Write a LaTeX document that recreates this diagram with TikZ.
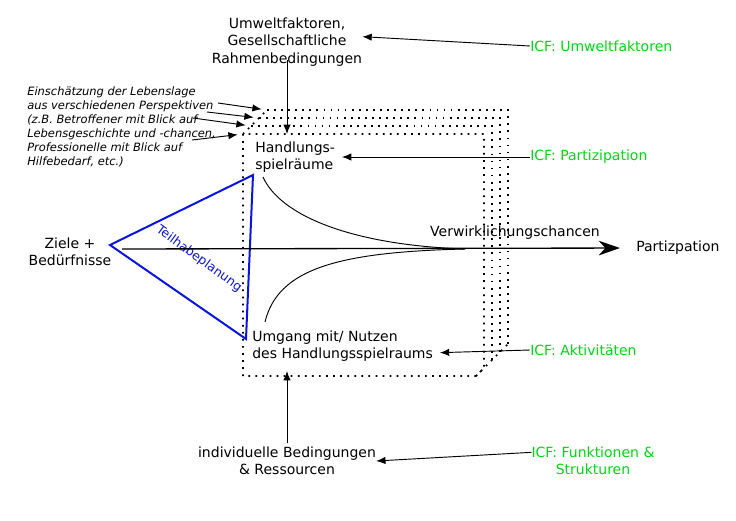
\documentclass[tikz,border=0pt]{standalone}
\usepackage{fontspec}
\setmainfont{DejaVu Sans}
\usetikzlibrary{arrows.meta}
\definecolor{icfgreen}{RGB}{0,215,20}
\definecolor{planblue}{RGB}{10,20,225}

\begin{document}
\begin{tikzpicture}[x=0.75pt,y=-0.75pt,
    txt/.style={font=\fontsize{10.5}{13}\selectfont, inner sep=0pt, align=center},
    icf/.style={txt, text=icfgreen},
    note/.style={font=\fontsize{8.6}{10.5}\selectfont\itshape, inner sep=0pt, align=left},
    pfeil/.style={-{Latex[length=7pt,width=5.5pt]}, line width=0.7pt},
    hauptpfeil/.style={-{Stealth[length=16pt,width=11pt,inset=5pt]}, line width=1pt},
    rahmen/.style={dash pattern=on 1.3pt off 4pt, line width=1.3pt}]
    \useasboundingbox (0,0) rectangle (736,521);
    % Rahmen
    \draw[rahmen] (243,134) -- (243,376) -- (476,376) -- (484,368) -- (484,134) -- cycle;
    \foreach \k in {1,2,3}
        \draw[rahmen] (243+8*\k,134-8*\k) -- (484+8*\k,134-8*\k) -- (484+8*\k,368-8*\k);
    \draw[rahmen] (243,134) -- (267,110);
    \draw[rahmen] (476,376) -- (508,344);
    \foreach \k in {0,1,2,3}
        \coordinate (ecke\k) at (243+8*\k,134-8*\k);
    % Teilhabeplanung
    \draw[planblue, line width=1.5pt] (110,245) -- (253,175) -- (246,339) -- cycle;
    \node[font=\fontsize{9.4}{11}\selectfont, text=planblue, rotate=-36] (plan) at (199,259) {Teilhabeplanung};
    % Kurven
    \draw[line width=0.7pt] (263,177) .. controls (280,215) and (350,245) .. (465,249);
    \draw[line width=0.7pt] (265,322) .. controls (278,268) and (340,252) .. (465,249);
    % Texte
    \node[txt] (umwelt) at (287,42) {Umweltfaktoren,\\Gesellschaftliche\\Rahmenbedingungen};
    \node[icf, anchor=west] (icfumwelt) at (530,46) {ICF: Umweltfaktoren};
    \node[txt, anchor=west, align=left] (spiel) at (255,157) {Handlungs-\\spielräume};
    \node[icf, anchor=west] (icfpart) at (530,157) {ICF: Partizipation};
    \node[txt] (ziele) at (70,252) {Ziele +\\Bedürfnisse};
    \node[txt] (verwirk) at (515,233) {Verwirklichungschancen};
    \node[txt, anchor=west] (partiz) at (636,248) {Partizpation};
    \node[txt, anchor=west, align=left] (umgang) at (252,346) {Umgang mit/ Nutzen\\des Handlungsspielraums};
    \node[icf, anchor=west] (icfakt) at (530,350) {ICF: Aktivitäten};
    \node[txt] (indiv) at (287,461) {individuelle Bedingungen\\\& Ressourcen};
    \node[icf] (icffunk) at (593,461) {ICF: Funktionen \&\\Strukturen};
    \node[note, anchor=north west] (einsch) at (27,87) {Einschätzung der Lebenslage\\aus verschiedenen Perspektiven\\(z.B. Betroffener mit Blick auf\\Lebensgeschichte und -chancen,\\Professionelle mit Blick auf\\Hilfebedarf, etc.)};
    % Pfeile
    \coordinate (start) at (122,249);
    \coordinate (oben) at (287,134);
    \coordinate (unten) at (287,371);
    \draw[hauptpfeil, shorten >=12pt] (start) -- (partiz.west);
    \draw[pfeil] (umwelt.south) ++(0,-6) coordinate (umweltfuss) -- (oben);
    \draw[pfeil] (indiv.north) ++(0,-4) coordinate (indivkopf) -- (unten);
    \draw[pfeil] (icfumwelt.west) -- ([yshift=4pt]umwelt.east);
    \draw[pfeil] (icfpart.west) -- ([xshift=5pt]spiel.east);
    \draw[pfeil] (icfakt.west) -- ([xshift=5pt,yshift=-5pt]umgang.east);
    \draw[pfeil] ([yshift=6.5pt]icffunk.west) -- (indiv.east);
    \foreach \k/\sx/\sy in {3/218/103, 2/207/112, 1/193/118, 0/192/140} {
        \coordinate (von\k) at (\sx,\sy);
        \draw[pfeil, shorten >=4pt] (von\k) -- (ecke\k);
    }
\end{tikzpicture}
\end{document}
